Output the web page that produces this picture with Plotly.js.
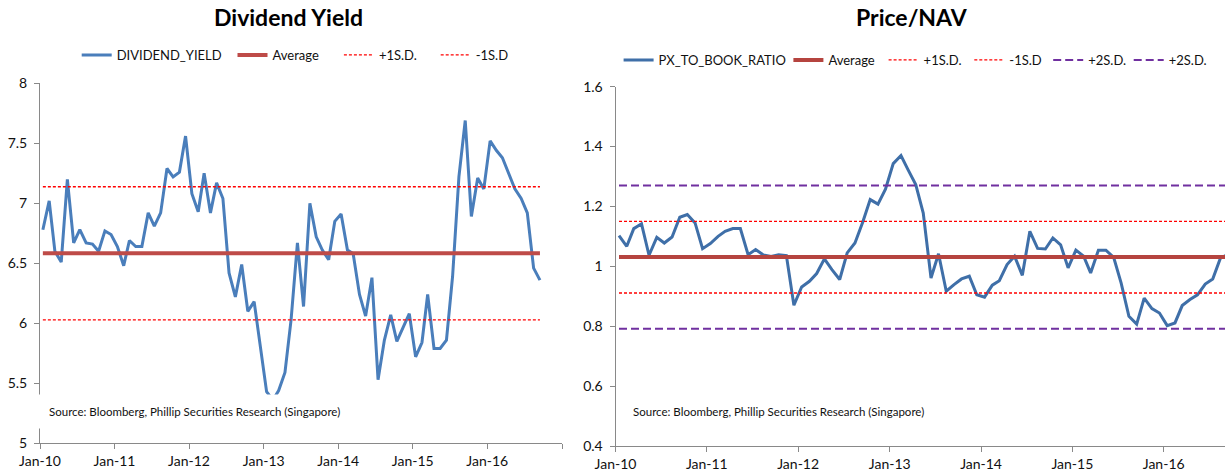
<!DOCTYPE html>
<html><head><meta charset="utf-8">
<script src="https://cdn.plot.ly/plotly-3.0.1.min.js"></script>
<style>html,body{margin:0;padding:0;background:#fff;} #chart{width:1225px;height:473px;}</style>
</head><body><div id="chart"></div>
<script>
// Monthly observation dates (Jan 2010 - Sep 2016)
const months = [
 '2010-01-15','2010-02-15','2010-03-15','2010-04-15','2010-05-15','2010-06-15','2010-07-15','2010-08-15','2010-09-15','2010-10-15','2010-11-15','2010-12-15',
 '2011-01-15','2011-02-15','2011-03-15','2011-04-15','2011-05-15','2011-06-15','2011-07-15','2011-08-15','2011-09-15','2011-10-15','2011-11-15','2011-12-15',
 '2012-01-15','2012-02-15','2012-03-15','2012-04-15','2012-05-15','2012-06-15','2012-07-15','2012-08-15','2012-09-15','2012-10-15','2012-11-15','2012-12-15',
 '2013-01-15','2013-02-15','2013-03-15','2013-04-15','2013-05-15','2013-06-15','2013-07-15','2013-08-15','2013-09-15','2013-10-15','2013-11-15','2013-12-15',
 '2014-01-15','2014-02-15','2014-03-15','2014-04-15','2014-05-15','2014-06-15','2014-07-15','2014-08-15','2014-09-15','2014-10-15','2014-11-15','2014-12-15',
 '2015-01-15','2015-02-15','2015-03-15','2015-04-15','2015-05-15','2015-06-15','2015-07-15','2015-08-15','2015-09-15','2015-10-15','2015-11-15','2015-12-15',
 '2016-01-15','2016-02-15','2016-03-15','2016-04-15','2016-05-15','2016-06-15','2016-07-15','2016-08-15','2016-09-15'
];

const dividendYield = [
 6.78,7.02,6.60,6.51,7.20,6.67,6.78,6.67,6.66,6.60,
 6.77,6.74,6.64,6.48,6.69,6.64,6.64,6.92,6.81,6.92,
 7.29,7.22,7.26,7.56,7.08,6.93,7.25,6.92,7.17,7.04,
 6.42,6.22,6.49,6.10,6.18,5.80,5.43,5.36,5.44,5.59,
 6.03,6.67,6.14,7.00,6.72,6.61,6.53,6.85,6.91,6.61,
 6.58,6.24,6.06,6.38,5.53,5.86,6.07,5.85,5.97,6.08,
 5.72,5.84,6.24,5.79,5.79,5.86,6.39,7.22,7.69,6.89,
 7.21,7.12,7.52,7.44,7.38,7.24,7.12,7.04,6.92,6.46,
 6.36
];

const pxToBook = [
 1.103,1.067,1.126,1.142,1.037,1.097,1.078,1.098,1.164,1.173,
 1.145,1.059,1.076,1.100,1.117,1.126,1.126,1.039,1.056,1.038,
 1.033,1.039,1.036,0.870,0.931,0.950,0.976,1.025,0.989,0.956,
 1.045,1.078,1.147,1.223,1.208,1.258,1.343,1.370,1.323,1.273,
 1.178,0.961,1.042,0.917,0.939,0.958,0.967,0.905,0.897,0.937,
 0.952,1.006,1.034,0.970,1.117,1.060,1.058,1.095,1.072,0.995,
 1.054,1.034,0.978,1.054,1.054,1.030,0.944,0.833,0.807,0.894,
 0.859,0.844,0.802,0.811,0.869,0.889,0.905,0.941,0.958,1.028,
 1.040
];

// Reference levels
const dyAverage = 6.583, dyPlus1SD = 7.138, dyMinus1SD = 6.028;
const pbAverage = 1.031, pbPlus1SD = 1.150, pbMinus1SD = 0.911, pbPlus2SD = 1.270, pbMinus2SD = 0.792;

const xTickVals = ['2010-01-01','2011-01-01','2012-01-01','2013-01-01','2014-01-01','2015-01-01','2016-01-01','2017-01-01'];
const xTickLabels = ['Jan-10','Jan-11','Jan-12','Jan-13','Jan-14','Jan-15','Jan-16',''];
const dyTicks = [5,5.5,6,6.5,7,7.5,8];
const pbTicks = [0.4,0.6,0.8,1,1.2,1.4,1.6];

const FONT = "Lato, 'Liberation Sans', Arial, sans-serif";
const W = 1225, H = 473;
const px = v => v / W;
const py = v => (H - v) / H;

const span = [months[0], months[months.length - 1]];
function level(val, name, color, width, dash, xa, ya, lg) {
  return {x: span, y: [val, val], type: 'scatter', mode: 'lines', name: name,
    line: {color: color, width: width, dash: dash}, xaxis: xa, yaxis: ya, legend: lg, hoverinfo: 'skip'};
}

const traces = [
  {x: months, y: dividendYield, type: 'scatter', mode: 'lines', name: 'DIVIDEND_YIELD',
   line: {color: '#4a7ebb', width: 3}, xaxis: 'x', yaxis: 'y', legend: 'legend'},
  level(dyAverage, 'Average', '#be4b48', 4, 'solid', 'x', 'y', 'legend2'),
  level(dyPlus1SD, '+1S.D.', '#ff0000', 1.3, '3px,2px', 'x', 'y', 'legend3'),
  level(dyMinus1SD, '-1S.D', '#ff0000', 1.3, '3px,2px', 'x', 'y', 'legend4'),

  {x: months, y: pxToBook, type: 'scatter', mode: 'lines', name: 'PX_TO_BOOK_RATIO',
   line: {color: '#3f6fa8', width: 3}, xaxis: 'x2', yaxis: 'y2', legend: 'legend5'},
  level(pbAverage, 'Average', '#b5443f', 4, 'solid', 'x2', 'y2', 'legend6'),
  level(pbPlus1SD, '+1S.D.', '#ff0000', 1.3, '3px,2px', 'x2', 'y2', 'legend7'),
  level(pbMinus1SD, '-1S.D', '#ff0000', 1.3, '3px,2px', 'x2', 'y2', 'legend8'),
  level(pbPlus2SD, '+2S.D.', '#7030a0', 2, '8px,4px', 'x2', 'y2', 'legend9'),
  level(pbMinus2SD, '+2S.D.', '#7030a0', 2, '8px,4px', 'x2', 'y2', 'legend10')
];

const axisCommon = {showgrid: false, zeroline: false, showline: true, linecolor: '#898989', linewidth: 1,
  ticks: 'outside', ticklen: 5, tickcolor: '#898989', tickwidth: 1,
  tickfont: {family: FONT, size: 14, color: '#111'}, fixedrange: true};

// legend entry text start positions (px) and vertical top (px)
const legendTextX = [116.7, 272.5, 378.9, 475.7, 658.6, 828.4, 923.6, 1009.3, 1088.2, 1168.7];
function legendBox(textX, topY) {
  return {orientation: 'h', x: px(textX - 40), y: py(topY), xanchor: 'left', yanchor: 'top',
    bgcolor: 'rgba(0,0,0,0)', font: {family: FONT, size: 13, color: '#111'}};
}

const layout = {
  width: W, height: H, margin: {l: 0, r: 0, t: 0, b: 0},
  paper_bgcolor: '#fff', plot_bgcolor: 'rgba(0,0,0,0)',
  font: {family: FONT, color: '#111'},
  showlegend: true,
  hovermode: false,
  xaxis: Object.assign({}, axisCommon, {type: 'date', domain: [px(40), px(562)],
    range: ['2010-01-01', '2017-01-01'], tickmode: 'array', tickvals: xTickVals, ticktext: xTickLabels,
    anchor: 'y', ticklabelstandoff: 0}),
  yaxis: Object.assign({}, axisCommon, {domain: [py(443.3), py(83.3)], range: [5, 8],
    tickmode: 'array', tickvals: dyTicks, anchor: 'x', ticklabelstandoff: 4}),
  xaxis2: Object.assign({}, axisCommon, {type: 'date', domain: [px(615.5), 1],
    range: ['2010-01-01', '2016-09-02'], tickmode: 'array', tickvals: xTickVals, ticktext: xTickLabels,
    anchor: 'y2', ticklabelstandoff: 0}),
  yaxis2: Object.assign({}, axisCommon, {domain: [py(446), py(86.7)], range: [0.4, 1.6],
    tickmode: 'array', tickvals: pbTicks, anchor: 'x2', ticklabelstandoff: 4}),
  annotations: [
    {text: '<b>Dividend Yield</b>', xref: 'paper', yref: 'paper', x: px(288), y: py(16.7),
     xanchor: 'center', yanchor: 'middle', showarrow: false, font: {family: FONT, size: 23, color: '#000'}},
    {text: '<b>Price/NAV</b>', xref: 'paper', yref: 'paper', x: px(911.5), y: py(16.7),
     xanchor: 'center', yanchor: 'middle', showarrow: false, font: {family: FONT, size: 23, color: '#000'}},
    {text: 'Source: Bloomberg, Phillip Securities Research (Singapore)', xref: 'paper', yref: 'paper',
     x: px(38), y: py(411.5), xanchor: 'left', yanchor: 'middle', showarrow: false,
     bgcolor: '#ffffff', borderpad: 10, font: {family: FONT, size: 11.5, color: '#111'}},
    {text: 'Source: Bloomberg, Phillip Securities Research (Singapore)', xref: 'paper', yref: 'paper',
     x: px(631), y: py(411.5), xanchor: 'left', yanchor: 'middle', showarrow: false,
     font: {family: FONT, size: 11.5, color: '#111'}}
  ]
};
layout.legend = legendBox(legendTextX[0], 40);
for (let k = 1; k < 10; k++) {
  layout['legend' + (k + 1)] = legendBox(legendTextX[k], k < 4 ? 40 : 45);
}

Plotly.newPlot('chart', traces, layout, {displayModeBar: false, staticPlot: true});
</script>
</body></html>
